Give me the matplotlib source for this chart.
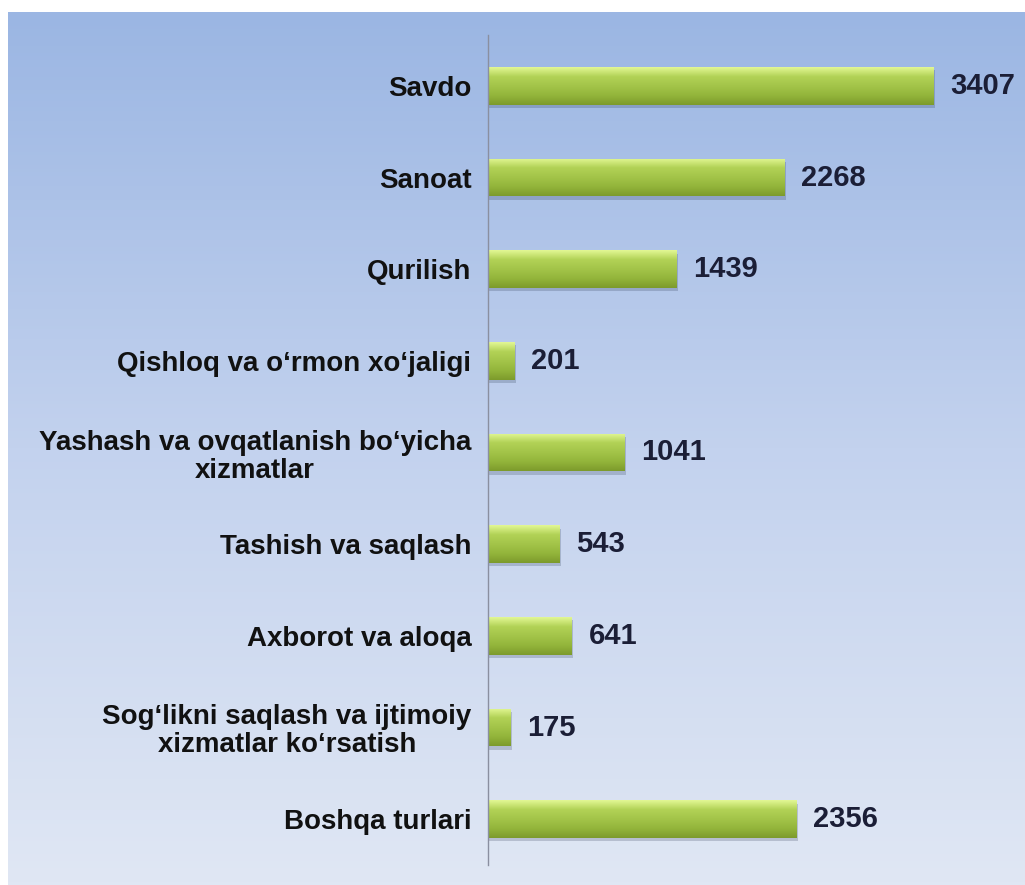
import numpy as np
import matplotlib.pyplot as plt
from matplotlib.colors import LinearSegmentedColormap

# Data
categories = ['Savdo', 'Sanoat', 'Qurilish', 'Qishloq va o\u2018rmon xo\u2018jaligi',
              'Yashash va ovqatlanish bo\u2018yicha\nxizmatlar', 'Tashish va saqlash',
              'Axborot va aloqa', 'Sog\u2018likni saqlash va ijtimoiy\nxizmatlar ko\u2018rsatish',
              'Boshqa turlari']
values = [3407, 2268, 1439, 201, 1041, 543, 641, 175, 2356]

plt.rcParams['font.family'] = ['Liberation Sans', 'DejaVu Sans']

fig = plt.figure(figsize=(10.25, 8.85), dpi=100)

# Background panel with vertical gradient
bg = fig.add_axes([8 / 1025, 0, 1 - 8 / 1025, 873 / 885])
bg_cmap = LinearSegmentedColormap.from_list('bg', ['#9bb6e3', '#c3d2ee', '#e0e7f4'])
bg.imshow(np.linspace(0, 1, 256).reshape(-1, 1), cmap=bg_cmap, aspect='auto',
          extent=[0, 1, 0, 1], origin='upper')
bg.set_axis_off()

ax = fig.add_axes([488 / 1025, 20 / 885, 530 / 1025, 825 / 885])
ax.patch.set_alpha(0)

y = np.arange(len(categories))
bars = ax.barh(y, values, height=0.41, color='#9fc044', zorder=2)

# Bar shading (light top, darker bottom)
bar_cmap = LinearSegmentedColormap.from_list(
    'bar', ['#7d9b2c', '#93b53b', '#a3c449', '#b2d256', '#e2f794'])
grad = np.linspace(0, 1, 100).reshape(-1, 1)
for b in bars:
    x0, y0, w, h = b.get_x(), b.get_y(), b.get_width(), b.get_height()
    # drop shadow
    ax.barh(y0 + h / 2 + 0.035, w + 12, height=h, left=x0, color='#1a2a40',
            alpha=0.2, zorder=1)
    im = ax.imshow(grad, cmap=bar_cmap, aspect='auto', extent=[x0, x0 + w, y0 + h, y0],
                   origin='lower', zorder=3)
    im.set_clip_path(b)

for yi, v in zip(y, values):
    ax.annotate(str(v), (v, yi), xytext=(12, 0), textcoords='offset points',
                va='center', ha='left', fontsize=21, fontweight='bold', color='#1b1e36')

ax.set_xlim(0, 4050)
ax.set_ylim(len(categories) - 0.5, -0.5)
ax.set_yticks(y)
ax.set_yticklabels(categories, fontsize=20, fontweight='bold', color='#111111',
                   multialignment='center', linespacing=1.1)
ax.tick_params(axis='y', length=0, pad=12)
ax.set_xticks([])
for s in ['top', 'right', 'bottom', 'left']:
    ax.spines[s].set_visible(False)
ax.axvline(0, ymin=0, ymax=1.006, color='#8a8fa0', linewidth=1, clip_on=False, zorder=4)

plt.savefig('out.png', dpi=100)
